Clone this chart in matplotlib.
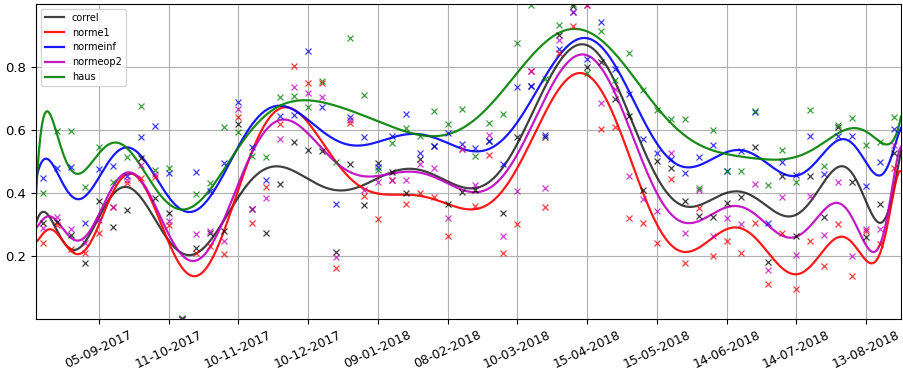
import matplotlib
matplotlib.use("Agg")
import matplotlib.pyplot as plt
import numpy as np

# tick labels (dates of every 5th sample)
tick_labels = ["05-09-2017", "11-10-2017", "10-11-2017", "10-12-2017",
               "09-01-2018", "08-02-2018", "10-03-2018", "15-04-2018",
               "15-05-2018", "14-06-2018", "14-07-2018", "13-08-2018"]
tick_idx = [4, 9, 14, 19, 24, 29, 34, 39, 44, 49, 54, 59]

correl = [.306, .309, .267, .177, .375, .293, .346, .510, .384, .336,
          .000, .224, .272, .280, .619, .349, .273, .428, .561, .537,
          .533, .214, .491, .362, .494, .468, .401, .508, .550, .365,
          .404, .410, .565, .338, .577, .741, .577, .902, .995, .801,
          .815, .698, .646, .410, .502, .478, .375, .327, .324, .369,
          .387, .547, .181, .454, .263, .454, .324, .610, .436, .259,
          .366, .528]
norme1 = [.242, .298, .221, .208, .274, .354, .431, .449, .451, .300,
          .000, .208, .233, .205, .641, .305, .419, .618, .803, .748,
          .750, .161, .623, .389, .317, .441, .365, .401, .386, .263,
          .540, .359, .521, .211, .302, .788, .357, .844, .930, .997,
          .602, .608, .320, .304, .242, .444, .177, .352, .200, .248,
          .211, .305, .110, .272, .094, .248, .168, .302, .137, .279,
          .237, .478]
normeinf = [.447, .478, .481, .304, .475, .486, .455, .577, .613, .462,
            .000, .466, .407, .496, .688, .546, .441, .646, .648, .851,
            .672, .365, .642, .577, .484, .581, .650, .528, .550, .589,
            .556, .544, .565, .492, .735, .741, .584, .857, .976, .824,
            .942, .793, .714, .570, .528, .507, .465, .515, .552, .471,
            .533, .656, .305, .499, .457, .581, .460, .581, .581, .423,
            .497, .603]
normeop2 = [.288, .325, .285, .240, .314, .357, .441, .489, .460, .310,
            .000, .270, .280, .249, .667, .349, .384, .571, .735, .719,
            .706, .198, .632, .410, .436, .441, .441, .491, .478, .320,
            .540, .425, .584, .263, .407, .788, .417, .886, .976, .997,
            .687, .729, .454, .380, .343, .528, .272, .410, .263, .320,
            .302, .428, .156, .387, .203, .390, .267, .435, .201, .285,
            .285, .552]
haus = [.399, .598, .598, .420, .547, .436, .515, .676, .473, .479,
        .003, .396, .431, .611, .594, .517, .514, .706, .708, .674,
        .756, .499, .891, .711, .473, .560, .605, .581, .660, .619,
        .667, .518, .621, .650, .875, .997, .762, .933, .999, .780,
        .914, .759, .843, .727, .663, .635, .635, .415, .600, .470,
        .470, .661, .425, .537, .436, .663, .486, .616, .637, .552,
        .563, .642]

series = [("correl", correl, "k"), ("norme1", norme1, "r"),
          ("normeinf", normeinf, "b"), ("normeop2", normeop2, "m"),
          ("haus", haus, "g")]

fig = plt.figure(figsize=(9.04, 3.77), dpi=100)
ax = fig.add_axes([36 / 904, 1 - 319 / 377, 865 / 904, 315 / 377])

n = len(correl)
x = np.arange(n)
t = np.linspace(0, n - 1, 600)
# curve spans the full width, points sit in the middle of their slots
xs = -0.5 + t * n / (n - 1)

for name, vals, col in series:
    y = np.array(vals, dtype=float)
    p = np.polynomial.Polynomial.fit(x, y, 17)
    ax.plot(xs, p(t), color=col, lw=1.6, alpha=0.75 if col == "k" else 0.9, label=name)

for name, vals, col in series:
    ax.plot(x, vals, "x", color=col, ms=4, mew=0.9, alpha=0.75)

ax.set_xlim(-0.5, n - 0.5)
ax.set_ylim(0, 1)
ax.set_yticks([0.2, 0.4, 0.6, 0.8])
ax.set_xticks(tick_idx)
ax.set_xticklabels(tick_labels, rotation=25, fontsize=9)
ax.tick_params(axis="y", labelsize=9.5)
ax.grid(True)
ax.legend(loc="upper left", fontsize=7)

fig.savefig("out.png", dpi=100)
